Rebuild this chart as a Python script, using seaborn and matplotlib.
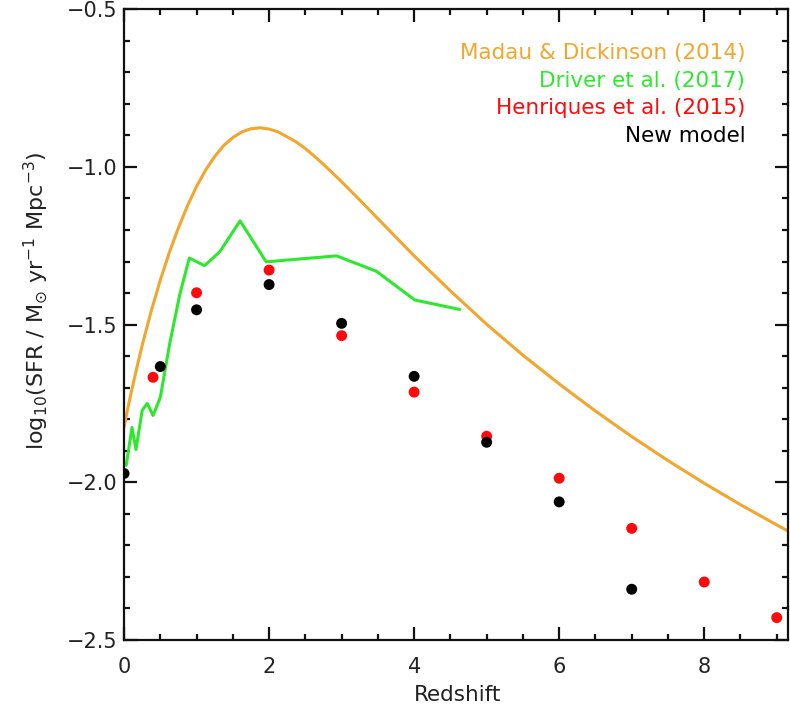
import matplotlib
matplotlib.use("Agg")
import matplotlib.pyplot as plt
import seaborn as sns
from matplotlib.ticker import MultipleLocator

# --------------------------
# Datos
# --------------------------
# Madau & Dickinson (2014), curva continua
md_z = [0.0, 0.05, 0.1, 0.175, 0.25, 0.375, 0.5, 0.625, 0.75, 0.875, 1.0, 1.125,
        1.25, 1.375, 1.5, 1.625, 1.75, 1.875, 2.0, 2.125, 2.25, 2.375, 2.5, 2.625,
        2.75, 3.0, 3.25, 3.5, 4.0, 4.5, 5.0, 5.5, 6.0, 6.5, 7.0, 7.5, 8.0, 8.5,
        9.0, 9.2]
md_sfr = [-1.825, -1.768, -1.714, -1.638, -1.566, -1.457, -1.359, -1.271, -1.193,
          -1.123, -1.062, -1.010, -0.967, -0.932, -0.907, -0.889, -0.879, -0.876,
          -0.880, -0.889, -0.905, -0.921, -0.942, -0.966, -0.992, -1.047, -1.105,
          -1.164, -1.282, -1.393, -1.499, -1.597, -1.688, -1.774, -1.855, -1.931,
          -2.003, -2.071, -2.135, -2.160]

# Driver et al. (2017)
dr_z = [0.03, 0.11, 0.165, 0.25, 0.32, 0.40, 0.50, 0.63, 0.77, 0.90, 1.11, 1.32,
        1.60, 1.96, 2.93, 3.48, 4.01, 4.63]
dr_sfr = [-1.946, -1.826, -1.896, -1.772, -1.750, -1.788, -1.731, -1.560, -1.403,
          -1.289, -1.313, -1.269, -1.171, -1.301, -1.282, -1.331, -1.422, -1.452]

# Henriques et al. (2015)
he_z = [0.4, 1, 2, 3, 4, 5, 6, 7, 8, 9]
he_sfr = [-1.667, -1.399, -1.327, -1.535, -1.714, -1.854, -1.987, -2.146, -2.316, -2.429]

# Nuevo modelo
nm_z = [0, 0.5, 1, 2, 3, 4, 5, 6, 7]
nm_sfr = [-1.972, -1.633, -1.453, -1.373, -1.496, -1.664, -1.873, -2.062, -2.339]

c_orange = "#F2A62E"
c_green = "#2EE82E"
c_red = "#FF0A0A"

# --------------------------
# Figura
# --------------------------
sns.set_style("ticks")
plt.rcParams["font.family"] = ["DejaVu Sans"]

fig = plt.figure(figsize=(7.9, 7.08), dpi=100)
ax = fig.add_axes([0.157, 0.096, 0.84, 0.891])

sns.lineplot(x=md_z, y=md_sfr, ax=ax, color=c_orange, lw=2.2, estimator=None, sort=False)
sns.lineplot(x=dr_z, y=dr_sfr, ax=ax, color=c_green, lw=2.2, estimator=None, sort=False)
sns.scatterplot(x=he_z, y=he_sfr, ax=ax, color=c_red, s=62, edgecolor="none", zorder=3)
sns.scatterplot(x=nm_z, y=nm_sfr, ax=ax, color="black", s=62, edgecolor="none", zorder=4)

ax.set_xlim(0, 9.15)
ax.set_ylim(-2.5, -0.5)
ax.xaxis.set_major_locator(MultipleLocator(2))
ax.xaxis.set_minor_locator(MultipleLocator(0.5))
ax.yaxis.set_major_locator(MultipleLocator(0.5))
ax.yaxis.set_minor_locator(MultipleLocator(0.1))
ax.tick_params(which="both", direction="in", top=True, right=True, width=1.6,
               colors="#111111", labelsize=15, labelcolor="#222222")
ax.tick_params(which="major", length=9.5)
ax.tick_params(which="minor", length=4.5)
ax.tick_params(axis="x", pad=12.5)
ax.tick_params(axis="y", pad=5)
for s in ax.spines.values():
    s.set_linewidth(1.6)
    s.set_color("#111111")

ax.set_xlabel("Redshift", fontsize=15.5, color="#222222")
ax.xaxis.set_label_coords(0.502, -0.072)
ax.set_ylabel(r"log$_{10}$(SFR / M$_{\odot}$ yr$^{-1}$ Mpc$^{-3}$)", fontsize=16,
              color="#222222")
ax.yaxis.set_label_coords(-0.112, 0.538)

# Leyenda como texto coloreado
labels = ["Madau & Dickinson (2014)", "Driver et al. (2017)",
          "Henriques et al. (2015)", "New model"]
colors = [c_orange, c_green, c_red, "black"]
for i, (t, c) in enumerate(zip(labels, colors)):
    ax.text(0.936, 0.93 - i * 0.0435, t, transform=ax.transAxes, ha="right",
            va="center", fontsize=15.5, color=c)

fig.savefig("out.png", dpi=100)
